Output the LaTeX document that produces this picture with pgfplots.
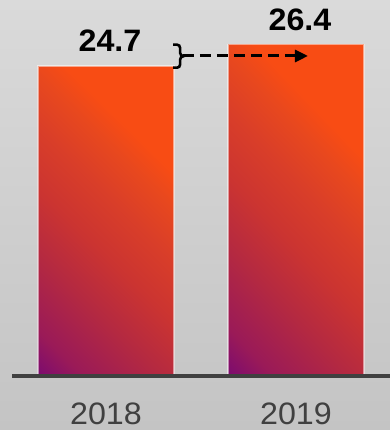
\documentclass[border=0pt]{standalone}
\usepackage{fontspec}
\setmainfont{Liberation Sans}
\usepackage{pgfplots}
\pgfplotsset{compat=1.18}
\usetikzlibrary{arrows.meta}
\definecolor{crim}{HTML}{C83034}
\definecolor{axgray}{HTML}{404040}
\definecolor{bgtop}{HTML}{DADADA}
\definecolor{bgbot}{HTML}{C4C4C4}
\pgfdeclarefunctionalshading{bargrad}{\pgfpointorigin}{\pgfpoint{100bp}{100bp}}{}{
 25 sub 50 div 0.70 mul exch 25 sub 50 div 0.30 mul add
 dup 0 lt {pop 0} if
 dup 0.10 lt
 { 0.10 div dup dup -0.094 mul 0.439 add 3 1 roll 0.059 mul 0.043 add 3 1 roll 0.122 mul 0.482 add 3 1 roll }
 { dup 0.27 lt
   { 0.10 sub 0.17 div dup dup -0.090 mul 0.345 add 3 1 roll 0.059 mul 0.102 add 3 1 roll 0.102 mul 0.604 add 3 1 roll }
   { dup 0.42 lt
     { 0.27 sub 0.15 div dup dup -0.063 mul 0.255 add 3 1 roll 0.043 mul 0.161 add 3 1 roll 0.090 mul 0.706 add 3 1 roll }
     { dup 0.56 lt
       { 0.42 sub 0.14 div dup dup -0.031 mul 0.192 add 3 1 roll 0.039 mul 0.204 add 3 1 roll 0.055 mul 0.796 add 3 1 roll }
       { dup 0.68 lt
         { 0.56 sub 0.12 div dup dup -0.043 mul 0.161 add 3 1 roll 0.039 mul 0.243 add 3 1 roll 0.059 mul 0.851 add 3 1 roll }
         { dup 0.76 lt
           { 0.68 sub 0.08 div dup dup -0.040 mul 0.118 add 3 1 roll 0.016 mul 0.282 add 3 1 roll 0.063 mul 0.910 add 3 1 roll }
           { pop 0.973 0.298 0.078 }
           ifelse }
         ifelse }
       ifelse }
     ifelse }
   ifelse }
 ifelse
}
\begin{document}
\begin{tikzpicture}
\shade[top color=bgtop, bottom color=bgbot] (0bp,0bp) rectangle (390bp,430bp);
\path[use as bounding box] (0bp,0bp) rectangle (390bp,430bp);
\begin{axis}[
  at={(12bp,54bp)}, anchor=south west,
  scale only axis, width=378bp, height=370.2bp,
  xmin=-0.4947, xmax=1.4947, ymin=0, ymax=29.5,
  axis x line*=bottom, axis y line=none,
  x axis line style={line width=3bp, color=axgray, -},
  xtick={0,1}, xticklabels={\scalebox{1.04}[1]{2018},\scalebox{1.04}[1]{2019}}, major tick length=0pt,
  xticklabel style={font=\fontsize{31bp}{31bp}\selectfont, text=axgray, inner sep=0pt, yshift=-26.5bp},
  ytick=\empty,
  clip=false, axis on top,
  ybar, bar width=0.7158,
  nodes near coords={\scalebox{1.04}[1]{\pgfplotspointmeta}}, point meta=explicit symbolic,
  nodes near coords style={font=\bfseries\fontsize{31bp}{31bp}\selectfont, anchor=south, inner sep=0pt, yshift=13.5bp, xshift=4bp, text=black},
]
\addplot[bar shift=0pt, fill=crim, draw=white, draw opacity=0.5, line width=1.3bp, shade, shading=bargrad] coordinates {(0,24.7) [24.7]};
\addplot[bar shift=0pt, fill=crim, draw=white, draw opacity=0.5, line width=1.3bp, shade, shading=bargrad] coordinates {(1,26.4) [26.4]};
\draw[line width=2.6bp] (axis cs:0.353,26.4) -- ++(4bp,0bp) to[out=0,in=90] ++(3bp,-3bp) -- ++(0bp,-5bp) to[out=-90,in=180] ++(3.5bp,-3.5bp) to[out=180,in=90] ++(-3.5bp,-3.5bp) -- ++(0bp,-5bp) to[out=-90,in=0] ++(-3bp,-3bp) -- ++(-4bp,0bp);
\draw[line width=3bp, dash pattern=on 11bp off 6bp, -{Triangle[length=13bp,width=12bp]}] (axis cs:0.405,25.5) -- (axis cs:1.063,25.5);
\end{axis}
\end{tikzpicture}
\end{document}
